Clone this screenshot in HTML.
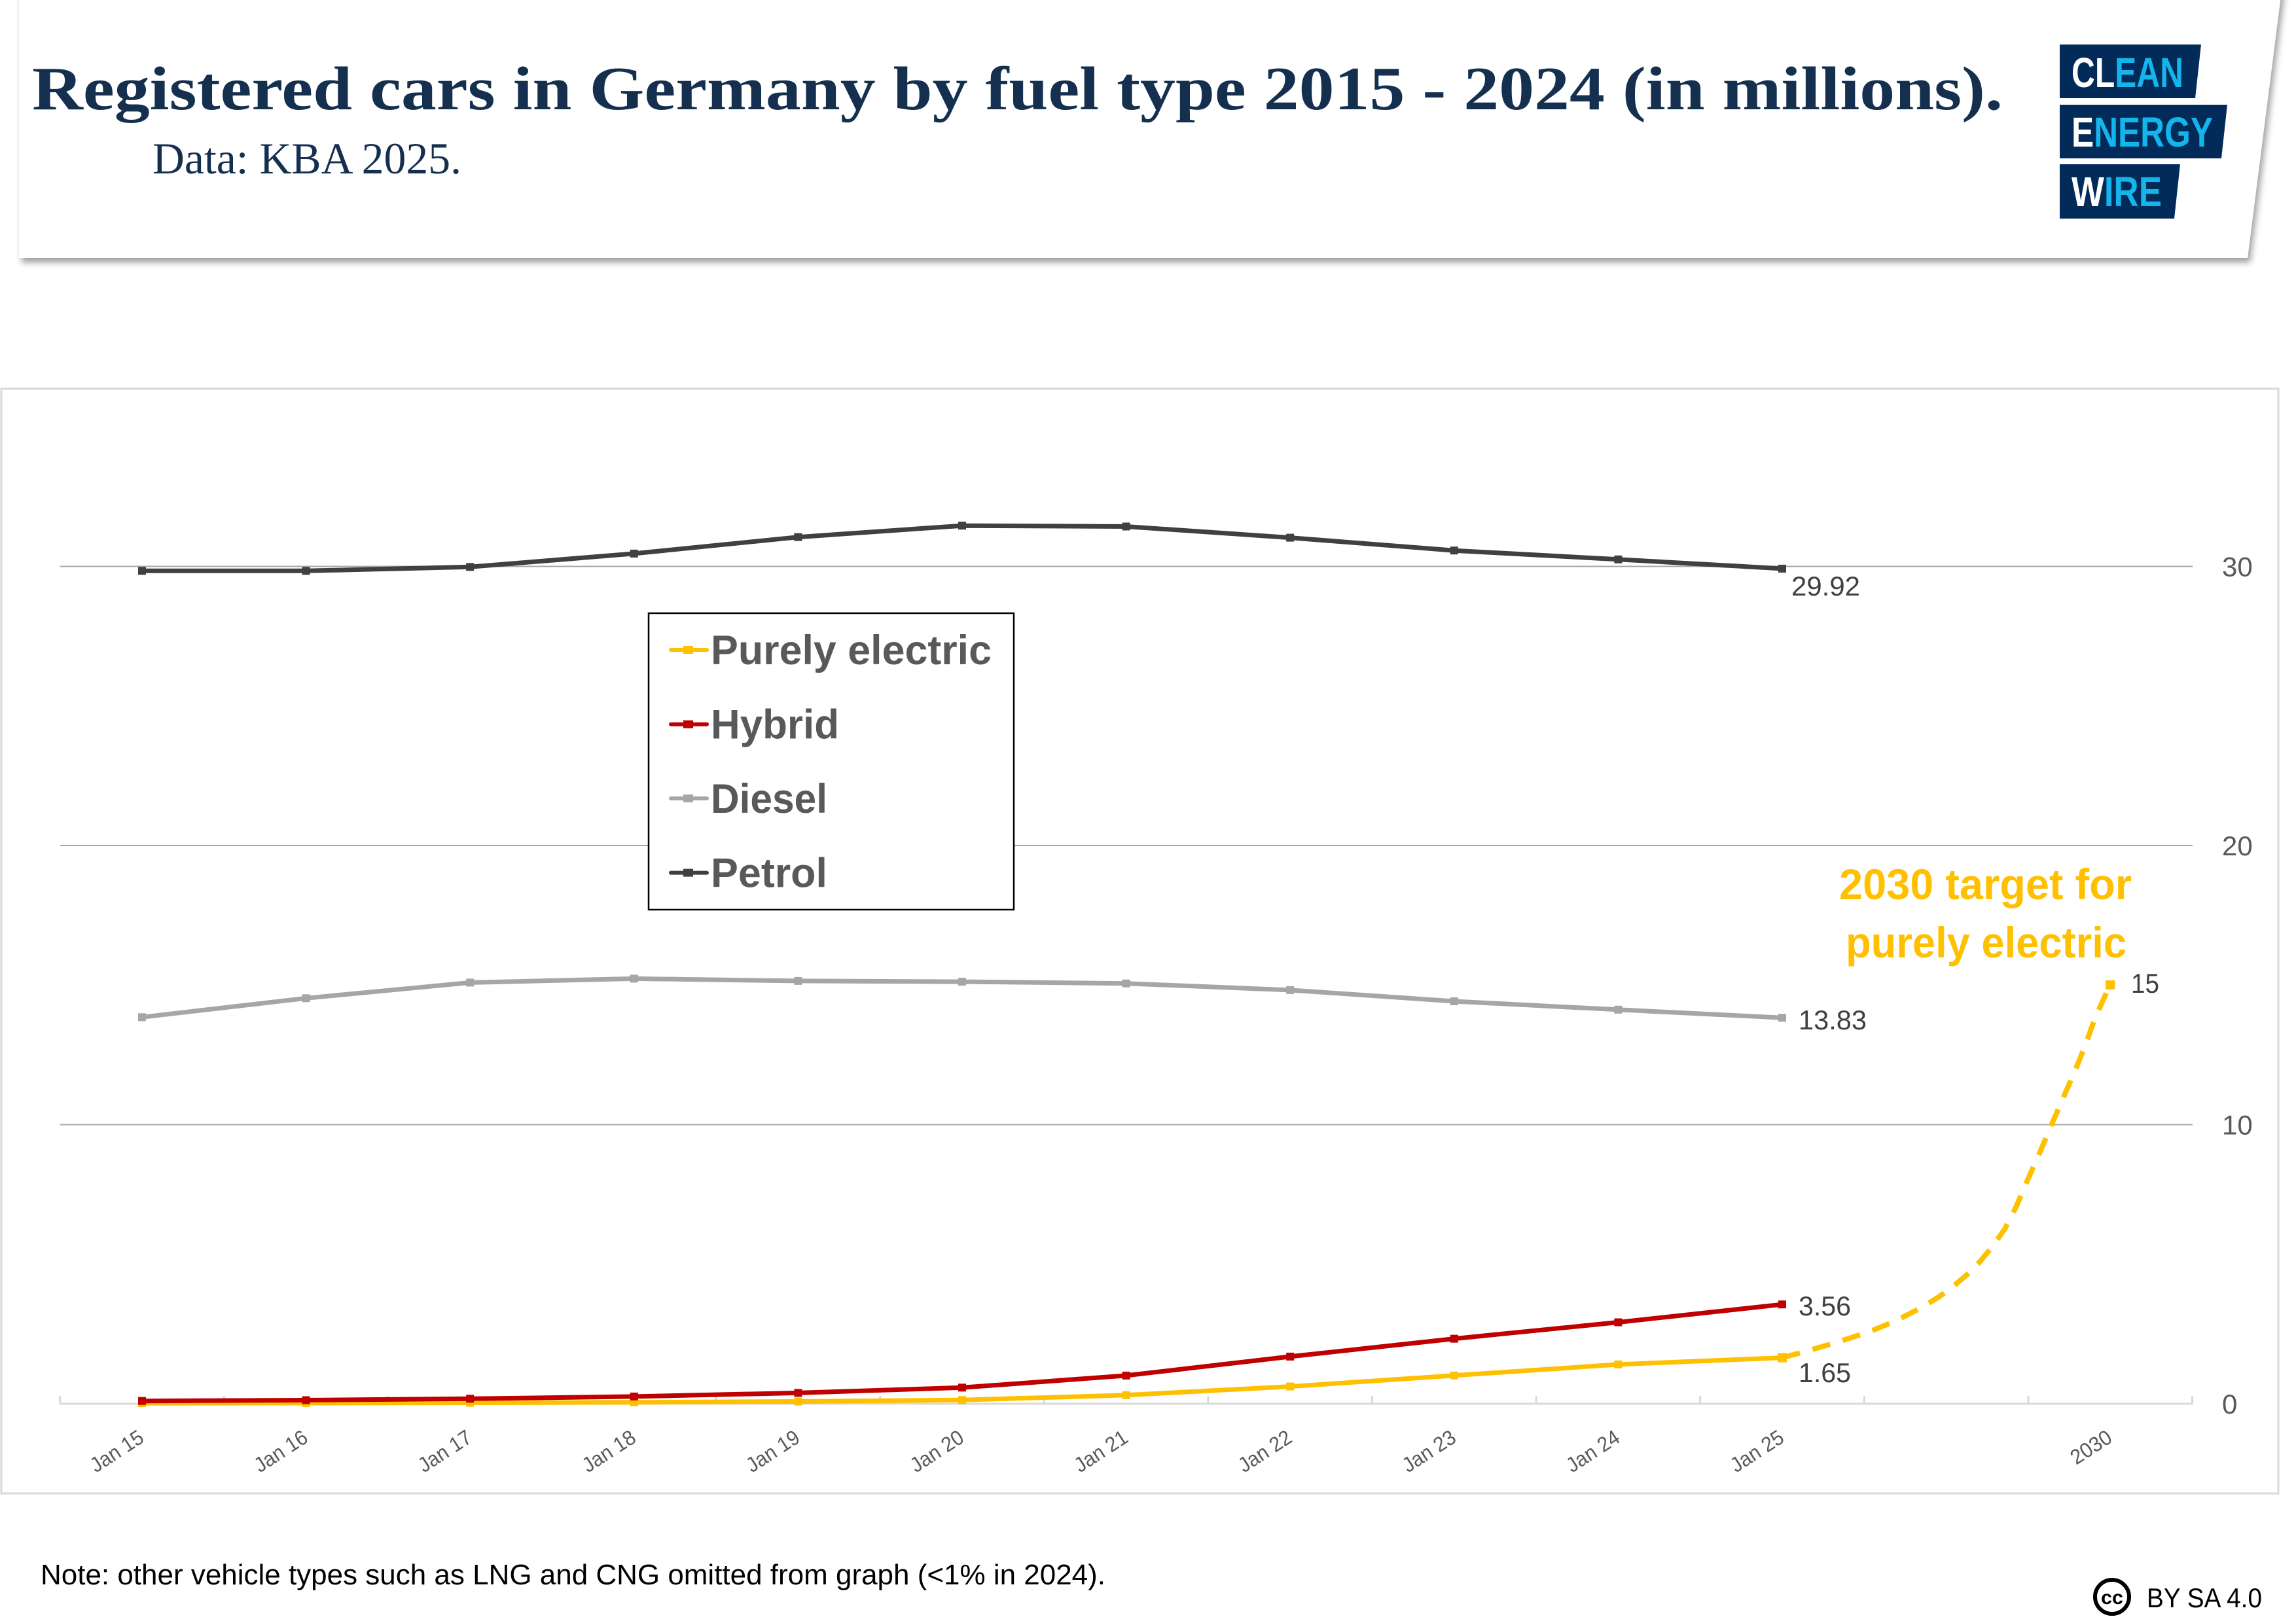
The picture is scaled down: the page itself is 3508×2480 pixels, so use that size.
<!DOCTYPE html>
<html>
<head>
<meta charset="utf-8">
<style>
html,body{margin:0;padding:0;background:#fff;}
svg{display:block;}
</style>
</head>
<body>
<svg width="3508" height="2480" viewBox="0 0 3508 2480" xmlns="http://www.w3.org/2000/svg">
<defs>
<filter id="sh" x="-5%" y="-20%" width="110%" height="150%">
<feDropShadow dx="4" dy="7" stdDeviation="5" flood-color="#000" flood-opacity="0.38"/>
</filter>
</defs>
<rect x="0" y="0" width="3508" height="2480" fill="#fff"/>

<!-- Header panel -->
<polygon points="29,-30 3488,-30 3434,394 29,394" fill="#fff" filter="url(#sh)"/>
<text x="49" y="167" font-family="'Liberation Serif',serif" font-weight="bold" font-size="94" fill="#15304f" textLength="3011" lengthAdjust="spacingAndGlyphs">Registered cars in Germany by fuel type 2015 - 2024 (in millions).</text>
<text x="233" y="265" font-family="'Liberation Serif',serif" font-size="68" fill="#15304f" textLength="472" lengthAdjust="spacingAndGlyphs">Data: KBA 2025.</text>

<!-- Logo -->
<polygon points="3147,68 3363,68 3354,150 3147,150" fill="#032b5a"/>
<polygon points="3147,160 3403,160 3394,242 3147,242" fill="#032b5a"/>
<polygon points="3147,251 3331,251 3322,334 3147,334" fill="#032b5a"/>
<g font-family="'Liberation Sans',sans-serif" font-weight="bold" font-size="64">
<text x="3165" y="133" textLength="171" lengthAdjust="spacingAndGlyphs"><tspan fill="#fff">CL</tspan><tspan fill="#14b5ea">EAN</tspan></text>
<text x="3165" y="224" textLength="216" lengthAdjust="spacingAndGlyphs"><tspan fill="#fff">E</tspan><tspan fill="#14b5ea">NERGY</tspan></text>
<text x="3165" y="315" textLength="138" lengthAdjust="spacingAndGlyphs"><tspan fill="#fff">W</tspan><tspan fill="#14b5ea">IRE</tspan></text>
</g>

<!-- Chart box -->
<rect x="2" y="594" width="3479" height="1688" fill="#fff" stroke="#d9d9d9" stroke-width="3"/>

<!-- Gridlines -->
<g stroke="#a6a6a6" stroke-width="2">
<line x1="91.7" y1="865.5" x2="3350" y2="865.5"/>
<line x1="91.7" y1="1292" x2="3350" y2="1292"/>
<line x1="91.7" y1="1718.5" x2="3350" y2="1718.5"/>
</g>
<!-- Axis -->
<g stroke="#d9d9d9" stroke-width="3">
<line x1="91.7" y1="2145" x2="3350" y2="2145"/>
<line x1="91.7" y1="2133" x2="91.7" y2="2145"/>
<line x1="342.3" y1="2133" x2="342.3" y2="2145"/>
<line x1="592.9" y1="2133" x2="592.9" y2="2145"/>
<line x1="843.5" y1="2133" x2="843.5" y2="2145"/>
<line x1="1094.1" y1="2133" x2="1094.1" y2="2145"/>
<line x1="1344.7" y1="2133" x2="1344.7" y2="2145"/>
<line x1="1595.3" y1="2133" x2="1595.3" y2="2145"/>
<line x1="1845.9" y1="2133" x2="1845.9" y2="2145"/>
<line x1="2096.5" y1="2133" x2="2096.5" y2="2145"/>
<line x1="2347.1" y1="2133" x2="2347.1" y2="2145"/>
<line x1="2597.7" y1="2133" x2="2597.7" y2="2145"/>
<line x1="2848.3" y1="2133" x2="2848.3" y2="2145"/>
<line x1="3098.9" y1="2133" x2="3098.9" y2="2145"/>
<line x1="3349.5" y1="2133" x2="3349.5" y2="2145"/>
</g>

<!-- Right axis labels -->
<g font-family="'Liberation Sans',sans-serif" font-size="42" fill="#595959">
<text x="3395" y="880.5">30</text>
<text x="3395" y="1307">20</text>
<text x="3395" y="1733.5">10</text>
<text x="3395" y="2160">0</text>
</g>

<!-- X labels -->
<g font-family="'Liberation Sans',sans-serif" font-size="32" fill="#595959" text-anchor="end">
<text transform="translate(222,2202) rotate(-33)" textLength="90" lengthAdjust="spacingAndGlyphs">Jan 15</text>
<text transform="translate(472.6,2202) rotate(-33)" textLength="90" lengthAdjust="spacingAndGlyphs">Jan 16</text>
<text transform="translate(723.2,2202) rotate(-33)" textLength="90" lengthAdjust="spacingAndGlyphs">Jan 17</text>
<text transform="translate(973.8,2202) rotate(-33)" textLength="90" lengthAdjust="spacingAndGlyphs">Jan 18</text>
<text transform="translate(1224.4,2202) rotate(-33)" textLength="90" lengthAdjust="spacingAndGlyphs">Jan 19</text>
<text transform="translate(1475,2202) rotate(-33)" textLength="90" lengthAdjust="spacingAndGlyphs">Jan 20</text>
<text transform="translate(1725.6,2202) rotate(-33)" textLength="90" lengthAdjust="spacingAndGlyphs">Jan 21</text>
<text transform="translate(1976.2,2202) rotate(-33)" textLength="90" lengthAdjust="spacingAndGlyphs">Jan 22</text>
<text transform="translate(2226.8,2202) rotate(-33)" textLength="90" lengthAdjust="spacingAndGlyphs">Jan 23</text>
<text transform="translate(2477.4,2202) rotate(-33)" textLength="90" lengthAdjust="spacingAndGlyphs">Jan 24</text>
<text transform="translate(2728,2202) rotate(-33)" textLength="90" lengthAdjust="spacingAndGlyphs">Jan 25</text>
<text transform="translate(3229.2,2202) rotate(-33)" textLength="68" lengthAdjust="spacingAndGlyphs">2030</text>
</g>

<!-- Dashed target line -->
<polyline fill="none" stroke="#ffc000" stroke-width="8" stroke-dasharray="28 20" stroke-linejoin="round"
points="2723,2074.6 2766,2063 2810,2050 2856,2035 2897,2018 2934,1999 2962,1982 2985,1965 3005,1948 3024,1929 3044,1905 3063,1878 3080,1845 3097,1805 3117,1760 3136,1715 3153,1676 3170,1637 3185,1600 3198,1564 3211,1533 3224,1505"/>
<rect x="3217.2" y="1498" width="14" height="14" fill="#ffc000"/>

<!-- Purely electric -->
<polyline fill="none" stroke="#ffc000" stroke-width="7" stroke-linejoin="round"
points="217,2144.1 467.6,2143.9 718.2,2143.5 968.8,2142.7 1219.4,2141.5 1470,2139.2 1720.6,2131.8 1971.2,2118.6 2221.8,2101.8 2472.4,2084.9 2723,2074.6"/>
<g fill="#ffc000">
<rect x="211" y="2138.1" width="12" height="12"/>
<rect x="461.6" y="2137.9" width="12" height="12"/>
<rect x="712.2" y="2137.5" width="12" height="12"/>
<rect x="962.8" y="2136.7" width="12" height="12"/>
<rect x="1213.4" y="2135.5" width="12" height="12"/>
<rect x="1464" y="2133.2" width="12" height="12"/>
<rect x="1714.6" y="2125.8" width="12" height="12"/>
<rect x="1965.2" y="2112.6" width="12" height="12"/>
<rect x="2215.8" y="2095.8" width="12" height="12"/>
<rect x="2466.4" y="2078.9" width="12" height="12"/>
<rect x="2716" y="2067.6" width="14" height="14"/>
</g>

<!-- Hybrid -->
<polyline fill="none" stroke="#c00000" stroke-width="7" stroke-linejoin="round"
points="217,2140.7 467.6,2139.5 718.2,2137.3 968.8,2133.9 1219.4,2128.4 1470,2120.3 1720.6,2101.9 1971.2,2072.9 2221.8,2045.6 2472.4,2020.5 2723,1993.2"/>
<g fill="#c00000">
<rect x="211" y="2134.7" width="12" height="12"/>
<rect x="461.6" y="2133.5" width="12" height="12"/>
<rect x="712.2" y="2131.3" width="12" height="12"/>
<rect x="962.8" y="2127.9" width="12" height="12"/>
<rect x="1213.4" y="2122.4" width="12" height="12"/>
<rect x="1464" y="2114.3" width="12" height="12"/>
<rect x="1714.6" y="2095.9" width="12" height="12"/>
<rect x="1965.2" y="2066.9" width="12" height="12"/>
<rect x="2215.8" y="2039.6" width="12" height="12"/>
<rect x="2466.4" y="2014.5" width="12" height="12"/>
<rect x="2717" y="1987.2" width="12" height="12"/>
</g>

<!-- Diesel -->
<polyline fill="none" stroke="#a8a5a5" stroke-width="7" stroke-linejoin="round"
points="217,1554.3 467.6,1525.3 718.2,1501.4 968.8,1495.4 1219.4,1498.9 1470,1500.1 1720.6,1502.7 1971.2,1512.9 2221.8,1530 2472.4,1542.8 2723,1555.2"/>
<g fill="#a8a5a5">
<rect x="211" y="1548.3" width="12" height="12"/>
<rect x="461.6" y="1519.3" width="12" height="12"/>
<rect x="712.2" y="1495.4" width="12" height="12"/>
<rect x="962.8" y="1489.4" width="12" height="12"/>
<rect x="1213.4" y="1492.9" width="12" height="12"/>
<rect x="1464" y="1494.1" width="12" height="12"/>
<rect x="1714.6" y="1496.7" width="12" height="12"/>
<rect x="1965.2" y="1506.9" width="12" height="12"/>
<rect x="2215.8" y="1524" width="12" height="12"/>
<rect x="2466.4" y="1536.8" width="12" height="12"/>
<rect x="2717" y="1549.2" width="12" height="12"/>
</g>

<!-- Petrol -->
<polyline fill="none" stroke="#404040" stroke-width="7" stroke-linejoin="round"
points="217,872.3 467.6,872.3 718.2,866.3 968.8,845.9 1219.4,820.7 1470,803.2 1720.6,804.5 1971.2,821.6 2221.8,841.2 2472.4,854.8 2723,868.9"/>
<g fill="#404040">
<rect x="211" y="866.3" width="12" height="12"/>
<rect x="461.6" y="866.3" width="12" height="12"/>
<rect x="712.2" y="860.3" width="12" height="12"/>
<rect x="962.8" y="839.9" width="12" height="12"/>
<rect x="1213.4" y="814.7" width="12" height="12"/>
<rect x="1464" y="797.2" width="12" height="12"/>
<rect x="1714.6" y="798.5" width="12" height="12"/>
<rect x="1965.2" y="815.6" width="12" height="12"/>
<rect x="2215.8" y="835.2" width="12" height="12"/>
<rect x="2466.4" y="848.8" width="12" height="12"/>
<rect x="2717" y="862.9" width="12" height="12"/>
</g>

<!-- Data labels -->
<g font-family="'Liberation Sans',sans-serif" font-size="42" fill="#404040">
<text x="2737" y="910" textLength="105" lengthAdjust="spacingAndGlyphs">29.92</text>
<text x="2748" y="1573" textLength="104" lengthAdjust="spacingAndGlyphs">13.83</text>
<text x="2748" y="2010" textLength="80" lengthAdjust="spacingAndGlyphs">3.56</text>
<text x="2748" y="2112" textLength="80" lengthAdjust="spacingAndGlyphs">1.65</text>
<text x="3256" y="1517" textLength="43" lengthAdjust="spacingAndGlyphs">15</text>
</g>

<!-- Target annotation -->
<g font-family="'Liberation Sans',sans-serif" font-weight="bold" font-size="66" fill="#ffc000">
<text x="2810" y="1374" textLength="447" lengthAdjust="spacingAndGlyphs">2030 target for</text>
<text x="2820" y="1463" textLength="429" lengthAdjust="spacingAndGlyphs">purely electric</text>
</g>

<!-- Legend -->
<rect x="991" y="937" width="558" height="453" fill="#fff" stroke="#000" stroke-width="2.5"/>
<g stroke-width="6" stroke-linecap="round">
<line x1="1025" y1="993" x2="1080" y2="993" stroke="#ffc000"/>
<line x1="1025" y1="1106.7" x2="1080" y2="1106.7" stroke="#c00000"/>
<line x1="1025" y1="1220" x2="1080" y2="1220" stroke="#a8a5a5"/>
<line x1="1025" y1="1333.6" x2="1080" y2="1333.6" stroke="#404040"/>
</g>
<rect x="1044" y="987" width="15" height="12" fill="#ffc000"/>
<rect x="1044" y="1100.7" width="15" height="12" fill="#c00000"/>
<rect x="1044" y="1214" width="15" height="12" fill="#a8a5a5"/>
<rect x="1044" y="1327.6" width="15" height="12" fill="#404040"/>
<g font-family="'Liberation Sans',sans-serif" font-weight="bold" font-size="63" fill="#595959">
<text x="1086" y="1015" textLength="429" lengthAdjust="spacingAndGlyphs">Purely electric</text>
<text x="1086" y="1128.5" textLength="196" lengthAdjust="spacingAndGlyphs">Hybrid</text>
<text x="1086" y="1242" textLength="178" lengthAdjust="spacingAndGlyphs">Diesel</text>
<text x="1086" y="1355.5" textLength="178" lengthAdjust="spacingAndGlyphs">Petrol</text>
</g>

<!-- Note -->
<text x="62" y="2421" font-family="'Liberation Sans',sans-serif" font-size="44" fill="#000" textLength="1627" lengthAdjust="spacingAndGlyphs">Note: other vehicle types such as LNG and CNG omitted from graph (&lt;1% in 2024).</text>

<!-- CC -->
<circle cx="3227" cy="2440" r="26" fill="#fff" stroke="#000" stroke-width="6"/>
<text x="3227" y="2451" text-anchor="middle" font-family="'Liberation Sans',sans-serif" font-weight="bold" font-size="30" fill="#000" textLength="34" lengthAdjust="spacingAndGlyphs">cc</text>
<text x="3280" y="2456" font-family="'Liberation Sans',sans-serif" font-size="42" fill="#000" textLength="176" lengthAdjust="spacingAndGlyphs">BY SA 4.0</text>
</svg>
</body>
</html>
